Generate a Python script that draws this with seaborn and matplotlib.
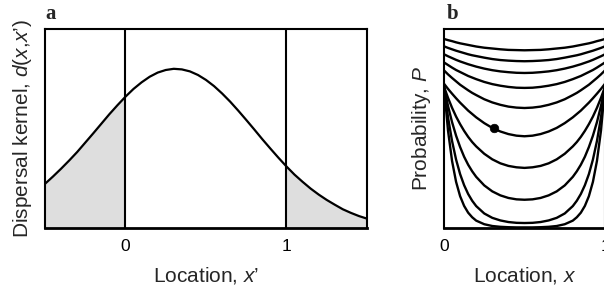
import numpy as np
import pandas as pd
import matplotlib
matplotlib.use("Agg")
import matplotlib.pyplot as plt
import seaborn as sns

# panel a: dispersal kernel (every 0.05 from -0.5 to 1.5)
kernel_x = np.round(np.arange(-0.5, 1.501, 0.05), 2)
kernel_d = [0.222, 0.259, 0.298, 0.339, 0.382, 0.429, 0.476, 0.524, 0.572, 0.617,
            0.660, 0.699, 0.732, 0.760, 0.781, 0.794, 0.800, 0.797, 0.787, 0.769,
            0.744, 0.713, 0.676, 0.635, 0.590, 0.543, 0.495, 0.446, 0.399, 0.353,
            0.309, 0.268, 0.232, 0.198, 0.168, 0.141, 0.117, 0.094, 0.076, 0.060,
            0.047]
habitat_edges = [0, 1]

# panel b: probability profiles, top to bottom
loc_x = [0, 0.025, 0.05, 0.075, 0.1, 0.125, 0.15, 0.175, 0.2, 0.25, 0.3, 0.35, 0.4, 0.45, 0.5,
         0.55, 0.6, 0.65, 0.7, 0.75, 0.8, 0.825, 0.85, 0.875, 0.9, 0.925, 0.95, 0.975, 1.0]
p1 = [0.950, 0.944, 0.939, 0.933, 0.928, 0.924, 0.920, 0.916, 0.912, 0.906, 0.902, 0.898, 0.895, 0.894, 0.893,
      0.894, 0.895, 0.898, 0.902, 0.906, 0.912, 0.916, 0.920, 0.924, 0.928, 0.933, 0.939, 0.944, 0.950]
p2 = [0.913, 0.905, 0.898, 0.891, 0.885, 0.879, 0.873, 0.868, 0.864, 0.856, 0.849, 0.844, 0.841, 0.839, 0.838,
      0.839, 0.841, 0.844, 0.849, 0.856, 0.864, 0.868, 0.873, 0.879, 0.885, 0.891, 0.898, 0.905, 0.913]
p3 = [0.873, 0.863, 0.854, 0.845, 0.837, 0.830, 0.823, 0.817, 0.811, 0.801, 0.793, 0.787, 0.783, 0.780, 0.779,
      0.780, 0.783, 0.787, 0.793, 0.801, 0.811, 0.817, 0.823, 0.830, 0.837, 0.845, 0.854, 0.863, 0.873]
p4 = [0.832, 0.819, 0.806, 0.794, 0.784, 0.774, 0.764, 0.756, 0.748, 0.734, 0.723, 0.715, 0.709, 0.705, 0.704,
      0.705, 0.709, 0.715, 0.723, 0.734, 0.748, 0.756, 0.764, 0.774, 0.784, 0.794, 0.806, 0.819, 0.832]
p5 = [0.792, 0.772, 0.754, 0.737, 0.720, 0.706, 0.692, 0.679, 0.668, 0.647, 0.631, 0.619, 0.610, 0.605, 0.603,
      0.605, 0.610, 0.619, 0.631, 0.647, 0.668, 0.679, 0.692, 0.706, 0.720, 0.737, 0.754, 0.772, 0.792]
p6 = [0.725, 0.699, 0.675, 0.652, 0.630, 0.610, 0.590, 0.573, 0.556, 0.527, 0.503, 0.485, 0.472, 0.464, 0.461,
      0.464, 0.472, 0.485, 0.503, 0.527, 0.556, 0.573, 0.590, 0.610, 0.630, 0.652, 0.675, 0.699, 0.725]
p7 = [0.710, 0.654, 0.604, 0.560, 0.522, 0.488, 0.458, 0.432, 0.410, 0.373, 0.345, 0.325, 0.312, 0.305, 0.302,
      0.305, 0.312, 0.325, 0.345, 0.373, 0.410, 0.432, 0.458, 0.488, 0.522, 0.560, 0.604, 0.654, 0.710]
p8 = [0.710, 0.613, 0.532, 0.464, 0.407, 0.358, 0.318, 0.285, 0.257, 0.214, 0.184, 0.164, 0.151, 0.144, 0.142,
      0.144, 0.151, 0.164, 0.184, 0.214, 0.257, 0.285, 0.318, 0.358, 0.407, 0.464, 0.532, 0.613, 0.710]
p9 = [0.710, 0.556, 0.437, 0.344, 0.271, 0.215, 0.171, 0.137, 0.110, 0.073, 0.051, 0.038, 0.030, 0.026, 0.025,
      0.026, 0.030, 0.038, 0.051, 0.073, 0.110, 0.137, 0.171, 0.215, 0.271, 0.344, 0.437, 0.556, 0.710]
p10 = [0.710, 0.489, 0.337, 0.232, 0.160, 0.111, 0.077, 0.054, 0.037, 0.019, 0.010, 0.006, 0.004, 0.003, 0.003,
       0.003, 0.004, 0.006, 0.010, 0.019, 0.037, 0.054, 0.077, 0.111, 0.160, 0.232, 0.337, 0.489, 0.710]
profiles = [p1, p2, p3, p4, p5, p6, p7, p8, p9, p10]
dot_x = [0.31]
dot_p = [0.505]

sns.set_style("white")
plt.rcParams['font.family'] = ['Liberation Sans', 'DejaVu Sans']
plt.rcParams['mathtext.fontset'] = 'custom'
plt.rcParams['mathtext.rm'] = 'Liberation Sans'
plt.rcParams['mathtext.it'] = 'Liberation Sans:italic'

fig = plt.figure(figsize=(6.04, 2.91), dpi=100)
ax_a = fig.add_axes([45 / 604, 63 / 291, 322 / 604, 199 / 291])
ax_b = fig.add_axes([444 / 604, 63 / 291, 161 / 604, 199 / 291])

# --- panel a
kx = np.array(kernel_x)
kd = np.array(kernel_d)
ax_a.fill_between(kx, kd, where=kx <= habitat_edges[0], color='#dedede', lw=0)
ax_a.fill_between(kx, kd, where=kx >= habitat_edges[1], color='#dedede', lw=0)
sns.lineplot(x=kx, y=kd, ax=ax_a, color='black', lw=1.6,
             estimator=None, sort=False)
for e in habitat_edges:
    ax_a.axvline(e, color='black', lw=1.5)
ax_a.set_xlim(-0.5, 1.5)
ax_a.set_ylim(0, 1)
ax_a.set_xticks(habitat_edges)
ax_a.set_yticks([])
ax_a.set_xlabel('Location, $x$’', fontsize=15, labelpad=8)
ax_a.set_ylabel('Dispersal kernel, $d$($x$,$x$’)', fontsize=15, labelpad=8)
ax_a.text(0, 1.025, 'a', transform=ax_a.transAxes, ha='left', va='bottom',
          fontsize=15, fontweight='bold', family='Liberation Serif')

# --- panel b
for prof in profiles:
    sns.lineplot(x=loc_x, y=prof, ax=ax_b, color='black', lw=1.7,
                 estimator=None, sort=False)
sns.scatterplot(x=dot_x, y=dot_p, ax=ax_b, color='black', s=38, zorder=5,
                edgecolor='black')
ax_b.set_xlim(0, 1)
ax_b.set_ylim(0, 1)
ax_b.set_xticks([0, 1])
ax_b.set_yticks([])
ax_b.set_xlabel('Location, $x$', fontsize=15, labelpad=8)
ax_b.set_ylabel('Probability, $P$', fontsize=15, labelpad=8)
ax_b.text(0.02, 1.025, 'b', transform=ax_b.transAxes, ha='left', va='bottom',
          fontsize=15, fontweight='bold', family='Liberation Serif')

for ax in (ax_a, ax_b):
    for side, sp in ax.spines.items():
        sp.set_color('black')
        sp.set_linewidth(2.0 if side == 'bottom' else 1.5)
        sp.set_visible(True)
    ax.tick_params(axis='x', length=0, labelsize=12.5, pad=8, colors='black')

fig.savefig('out.png', dpi=100)
